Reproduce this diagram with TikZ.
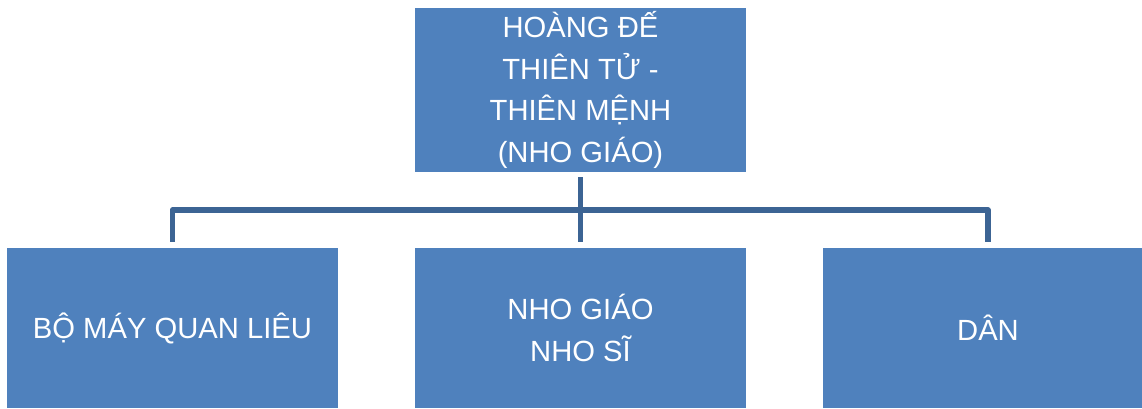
\documentclass[tikz,border=0pt]{standalone}
\usepackage{fontspec}
\setmainfont{Liberation Sans}
\usepackage{tikz}
\usetikzlibrary{positioning}
\definecolor{boxblue}{RGB}{79,129,189}
\definecolor{linkblue}{RGB}{60,100,148}

\begin{document}
\begin{tikzpicture}[x=0.5pt,y=-0.5pt,
    rank/.style={fill=boxblue,text=white,inner sep=0pt,minimum width=165.5pt,
                 align=center,font=\fontsize{14.6}{20.8}\selectfont},
    link/.style={draw=linkblue,line width=2.8pt,line join=round,shorten <=2.5pt,shorten >=3pt}]
    \clip (0,0) rectangle (1142,408);
    \node [rank,minimum height=82pt] (hoangde) at (580.5,90)
        {HOÀNG ĐẾ\\THIÊN TỬ -\\THIÊN MỆNH\\(NHO GIÁO)};
    \node [rank,minimum height=80pt] (quanlieu) at (172.5,328) {BỘ MÁY QUAN LIÊU};
    \node [rank,minimum height=80pt] (nhosi) at (580.5,328) {NHO GIÁO\\NHO SĨ};
    \node [rank,minimum height=80pt] (dan) at (988,328) {DÂN};
    \coordinate (bus) at (580,210);
    % nhanh giua
    \draw [link] (hoangde.south) -- (nhosi.north);
    % thanh ngang
    \draw [link,shorten <=3pt] (quanlieu.north) -- (quanlieu.north |- bus)
        -- (dan.north |- bus) -- (dan.north);
\end{tikzpicture}
\end{document}
